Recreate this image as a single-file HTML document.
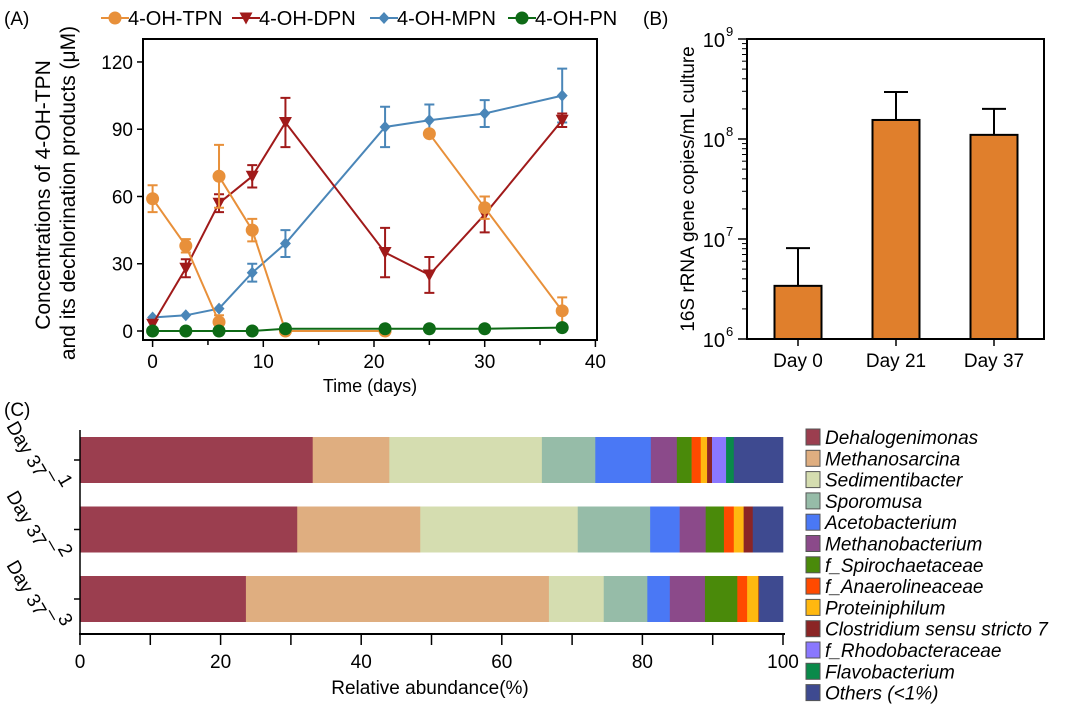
<!DOCTYPE html>
<html><head><meta charset="utf-8"><style>
body{margin:0;background:#fff}
svg{font-family:"Liberation Sans",Arial,sans-serif}
</style></head><body>
<svg id="s" width="1080" height="707" viewBox="0 0 1080 707" xmlns="http://www.w3.org/2000/svg">
<text x="4" y="25" font-size="19">(A)</text>
<text x="643" y="25" font-size="19">(B)</text>
<text x="4" y="416" font-size="19">(C)</text>
<g id="A"></g>
<g id="B"></g>
<g id="C"></g>
</svg>
<script>
const NS="http://www.w3.org/2000/svg";
function mk(p,t,a,txt){const e=document.createElementNS(NS,t);for(const k in a)e.setAttribute(k,a[k]);if(txt!==undefined)e.textContent=txt;p.appendChild(e);return e;}

// ---------- Panel A data ----------
const aDays=[0,3,6,9,12,21,25,30,37];
const tpnSegments=[[[0,59],[3,38],[6,4]],[[6,69],[9,45],[12,0],[21,0]],[[25,88],[30,55],[37,9]]];
const tpnErr=[[6,3,3],[14,5,0,0],[1,5,6]];
const dpnVals=[3,28,57,69,93,35,25,52,94];
const dpnErr=[0,4,4,5,11,11,8,8,3];
const mpnVals=[6,7,10,26,39,91,94,97,105];
const mpnErr=[0,0,0,4,6,9,7,6,12];
const pnVals=[0,0,0,0,1,1,1,1,1.5];
const aYTicks=[0,30,60,90,120];
const aXTicks=[0,10,20,30,40];
const A=document.getElementById('A');
const ax=d=>152.6+d*11.07, ay=v=>331-v*2.242;
mk(A,'rect',{x:143,y:39,width:454,height:301,fill:'none',stroke:'#000','stroke-width':2});
aYTicks.forEach(v=>{mk(A,'line',{x1:137,x2:143,y1:ay(v),y2:ay(v),stroke:'#000','stroke-width':1.5});
 const t=mk(A,'text',{x:133,y:ay(v)+7,'font-size':19,'text-anchor':'end'},v);});
for(let d=0;d<=40;d+=5){mk(A,'line',{x1:ax(d),x2:ax(d),y1:340,y2:d%10?345:347,stroke:'#000','stroke-width':1.5});}
aXTicks.forEach(d=>{const t=mk(A,'text',{x:ax(d),y:368,'font-size':19,'text-anchor':'middle'},d);});
let t=mk(A,'text',{x:370,y:392,'font-size':18,'text-anchor':'middle'},'Time (days)');
t=mk(A,'text',{transform:'translate(50,195) rotate(-90)','font-size':21,'text-anchor':'middle'},'Concentrations of 4-OH-TPN');
t=mk(A,'text',{transform:'translate(75,193) rotate(-90)','font-size':21,'text-anchor':'middle'},'and its dechlorination products (μM)');
function marker(g,shape,x,y,c){
 if(shape==='circle')return mk(g,'circle',{cx:x,cy:y,r:6.5,fill:c});
 if(shape==='tri')return mk(g,'path',{d:`M${x-6.5},${y-5.5}L${x+6.5},${y-5.5}L${x},${y+6.5}Z`,fill:c});
 return mk(g,'path',{d:`M${x},${y-6}L${x+5.5},${y}L${x},${y+6}L${x-5.5},${y}Z`,fill:c});}
function errbar(g,x,y,e,c){if(!e)return;mk(g,'path',{d:`M${x},${ay(y-e)}V${ay(y+e)}M${x-5},${ay(y-e)}H${x+5}M${x-5},${ay(y+e)}H${x+5}`,stroke:c,'stroke-width':2,fill:'none'});}
function series(name,vals,errs,c,shape){
 const g=mk(A,'g',{});
 mk(g,'polyline',{points:aDays.map((d,i)=>ax(d)+','+ay(vals[i])).join(' '),fill:'none',stroke:c,'stroke-width':2});
 aDays.forEach((d,i)=>{errbar(g,ax(d),vals[i],errs?errs[i]:0,c);marker(g,shape,ax(d),ay(vals[i]),c);});}
series('series-4-oh-mpn',mpnVals,mpnErr,'#4a86b8','dia');
series('series-4-oh-dpn',dpnVals,dpnErr,'#a01a1a','tri');
(function(){const c='#e8903a';const g=mk(A,'g',{});
 tpnSegments.forEach((seg,si)=>{mk(g,'polyline',{points:seg.map(p=>ax(p[0])+','+ay(p[1])).join(' '),fill:'none',stroke:c,'stroke-width':2});
  seg.forEach((p,i)=>{errbar(g,ax(p[0]),p[1],tpnErr[si][i],c);marker(g,'circle',ax(p[0]),ay(p[1]),c);});});})();
series('series-4-oh-pn',pnVals,null,'#0e6a16','circle');
const legA=[['4-OH-TPN','#e8903a','circle',101],['4-OH-DPN','#a01a1a','tri',232],['4-OH-MPN','#4a86b8','dia',370],['4-OH-PN','#0e6a16','circle',508]];
legA.forEach(l=>{const g=mk(A,'g',{});
 mk(g,'line',{x1:l[3],x2:l[3]+28,y1:18,y2:18,stroke:l[1],'stroke-width':2});marker(g,l[2],l[3]+14,18,l[1]);
 mk(g,'text',{x:l[3]+27,y:25,'font-size':20},l[0]);});

// ---------- Panel B data ----------
const bCats=['Day 0','Day 21','Day 37'];
const bVals=[3.4e6,1.55e8,1.1e8];
const bErrTop=[8.1e6,2.95e8,2.0e8];
const B=document.getElementById('B');
const by=v=>339-(Math.log10(v)-6)*100, bx=i=>798+i*98;
for(let dec=6;dec<9;dec++)for(let m=2;m<10;m++){const y=by(m*Math.pow(10,dec));mk(B,'line',{x1:742,x2:747,y1:y,y2:y,stroke:'#000','stroke-width':1});}
bCats.forEach((c,i)=>{const x=bx(i);
 mk(B,'path',{d:`M${x},${by(bVals[i])}V${by(bErrTop[i])}M${x-12},${by(bErrTop[i])}H${x+12}`,stroke:'#000','stroke-width':2,fill:'none'});
 const r=mk(B,'rect',{x:x-23.5,y:by(bVals[i]),width:47,height:339-by(bVals[i]),fill:'#e07f2c',stroke:'#000','stroke-width':2});
 mk(B,'line',{x1:x,x2:x,y1:339,y2:346,stroke:'#000','stroke-width':1.5});
 const tl=mk(B,'text',{x:x,y:367,'font-size':19,'text-anchor':'middle'},c);});
mk(B,'rect',{x:747,y:39,width:297,height:300,fill:'none',stroke:'#000','stroke-width':2});
[6,7,8,9].forEach(e=>{const y=by(Math.pow(10,e));mk(B,'line',{x1:738,x2:747,y1:y,y2:y,stroke:'#000','stroke-width':1.5});
 const tl=mk(B,'text',{x:725,y:y+8,'font-size':20,'text-anchor':'end'},'10');
 mk(B,'text',{x:726,y:y-3,'font-size':13},e);});
t=mk(B,'text',{transform:'translate(694,189) rotate(-90)','font-size':19,'text-anchor':'middle'},'16S rRNA gene copies/mL culture');

// ---------- Panel C data ----------
const taxa=['Dehalogenimonas','Methanosarcina','Sedimentibacter','Sporomusa','Acetobacterium','Methanobacterium','f_Spirochaetaceae','f_Anaerolineaceae','Proteiniphilum','Clostridium sensu stricto 7','f_Rhodobacteraceae','Flavobacterium','Others (<1%)'];
const taxaColors=['#9b3e4f','#dfae80','#d5ddb0','#96bca8','#4a78f5','#8b4a8a','#4a8a0a','#ff4a00','#ffb810','#8b2525','#8a78ff','#0a8a4a','#3e4a90'];
const samples=['Day 37_1','Day 37_2','Day 37_3'];
const day37_1=[33.1,10.9,21.7,7.6,7.9,3.7,2.1,1.3,0.9,0.7,2.0,1.1,7.0];
const day37_2=[30.9,17.5,22.4,10.3,4.2,3.7,2.6,1.4,1.4,1.3,0,0,4.3];
const day37_3=[23.6,43.1,7.8,6.2,3.2,5.0,4.6,1.4,1.6,0.1,0,0,3.4];
const cXTicks=[0,20,40,60,80,100];
const C=document.getElementById('C');
const cx=v=>80+v*7.03, cy=i=>437+i*69.5;
[day37_1,day37_2,day37_3].forEach((vals,i)=>{let acc=0;const g=mk(C,'g',{});
 vals.forEach((v,j)=>{if(v>0){const r=mk(g,'rect',{x:cx(acc),y:cy(i),width:v*7.03+0.3,height:46,fill:taxaColors[j]});}acc+=v;});
 const yc=cy(i)+23;mk(C,'line',{x1:74,x2:80,y1:yc,y2:yc,stroke:'#000','stroke-width':1.5});
 const tl=mk(C,'text',{transform:`translate(6,${yc-34}) rotate(60)`,'font-size':19},'Day 37');
 mk(C,'text',{transform:`translate(52,${yc+10}) rotate(60)`,'font-size':19},'_'+(i+1));});
mk(C,'line',{x1:80,x2:80,y1:430,y2:635,stroke:'#000','stroke-width':1.5});
mk(C,'line',{x1:79,x2:785,y1:634,y2:634,stroke:'#000','stroke-width':2});
for(let v=0;v<=100;v+=10)mk(C,'line',{x1:cx(v),x2:cx(v),y1:634,y2:645,stroke:'#000','stroke-width':1.5});
cXTicks.forEach(v=>{const tl=mk(C,'text',{x:cx(v),y:668,'font-size':19,'text-anchor':'middle'},v);});
t=mk(C,'text',{x:430,y:694,'font-size':19,'text-anchor':'middle'},'Relative abundance(%)');
taxa.forEach((n,j)=>{const y=429+j*21.3;const g=mk(C,'g',{});
 mk(g,'rect',{x:806,y:y,width:14,height:16,fill:taxaColors[j],stroke:'#555','stroke-width':1});
 mk(g,'text',{x:825,y:y+15,'font-size':19,'font-style':'italic'},n);});
</script>
</body></html>
